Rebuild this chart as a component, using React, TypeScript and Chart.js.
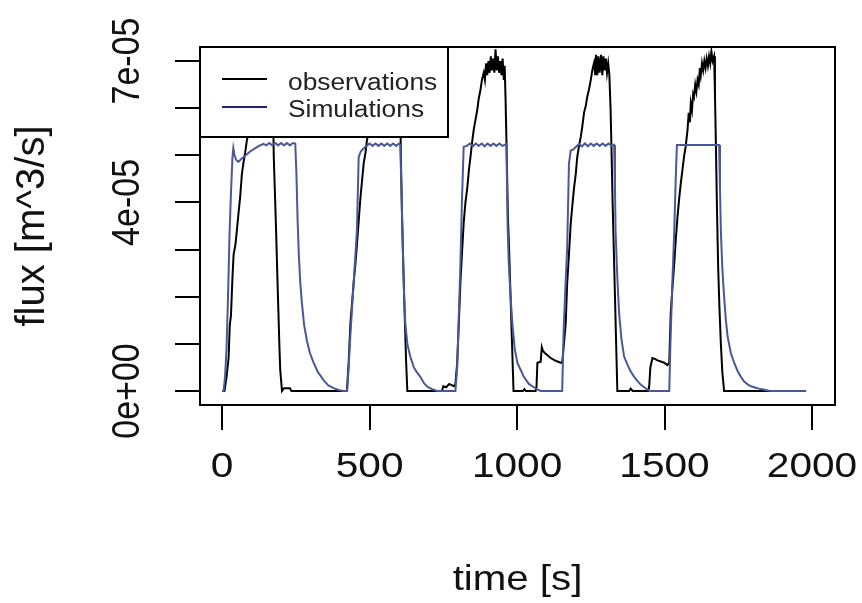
import { useEffect, useRef } from 'react';
import { Chart, registerables } from 'chart.js';

Chart.register(...registerables);

// ---------- data ----------
const xTicks = [0, 500, 1000, 1500, 2000];
const xTickLabels = ['0', '500', '1000', '1500', '2000'];
const yTicks = [0, 1e-5, 2e-5, 3e-5, 4e-5, 5e-5, 6e-5, 7e-5];
const yTickLabels = ['0e+00', '', '', '', '4e-05', '', '', '7e-05'];

const xTitle = 'time [s]';
const yTitle = 'flux [m^3/s]';
const legendLabels = ['observations', 'Simulations'];

// flux values are given in units of 1e-05 m^3/s
const FLUX_UNIT = 1e-5;

const simTime = [
  0, 5, 10, 15, 20, 25, 30, 35, 38, 42, 48, 55, 65, 80, 95, 110, 125, 140, 150, 160,
  170, 180, 190, 200, 210, 220, 230, 240, 248, 252, 256, 260, 265, 270, 278, 288, 298, 310, 325, 344,
  360, 378, 395, 412, 424, 429, 435, 441, 446, 452, 457, 463, 470, 480, 490, 500, 510, 520, 530, 540,
  550, 560, 570, 580, 590, 600, 604, 608, 612, 617, 621, 628, 638, 650, 660, 672, 685, 698, 712, 729,
  791, 797, 802, 808, 813, 819, 830, 840, 850, 860, 870, 880, 890, 900, 910, 920, 930, 940, 950, 964,
  968, 972, 978, 984, 992, 1001, 1012, 1023, 1040, 1057, 1070, 1080, 1153, 1158, 1164, 1170, 1176, 1182, 1190, 1200,
  1210, 1220, 1230, 1240, 1250, 1260, 1270, 1280, 1290, 1300, 1310, 1320, 1329, 1332, 1334, 1340, 1346, 1354, 1363, 1375,
  1385, 1397, 1410, 1420, 1431, 1442, 1453, 1516, 1520, 1526, 1533, 1538, 1542, 1600, 1650, 1685, 1688, 1691, 1696, 1702,
  1708, 1714, 1725, 1736, 1748, 1759, 1770, 1782, 1793, 1804, 1820, 1835, 1850, 1861, 1980,
];
const simFlux = [
  0, 0, 0.3, 0.9, 2.0, 3.3, 4.2, 4.95, 5.15, 5.0, 4.9, 4.86, 4.92, 5.0, 5.08, 5.14, 5.2, 5.24, 5.21, 5.26,
  5.21, 5.26, 5.21, 5.26, 5.21, 5.26, 5.21, 5.26, 5.25, 4.6, 3.6, 2.9, 2.3, 1.9, 1.4, 1.05, 0.8, 0.6, 0.4, 0.23,
  0.12, 0.06, 0.02, 0, 0, 0.5, 1.2, 1.8, 2.3, 2.9, 3.4, 4.96, 5.08, 5.15, 5.2, 5.25, 5.2, 5.25, 5.2, 5.25,
  5.2, 5.25, 5.2, 5.25, 5.2, 5.25, 5.22, 4.3, 3.2, 2.0, 1.44, 1.0, 0.73, 0.5, 0.4, 0.3, 0.16, 0.08, 0.04, 0,
  0, 0.5, 1.5, 2.7, 4.0, 5.18, 5.2, 5.25, 5.19, 5.25, 5.2, 5.25, 5.19, 5.25, 5.2, 5.25, 5.2, 5.25, 5.2, 5.24,
  3.5, 2.7, 2.0, 1.44, 0.9, 0.6, 0.45, 0.3, 0.15, 0.08, 0.03, 0, 0, 1.3, 2.2, 3.05, 4.83, 5.1, 5.12, 5.18,
  5.24, 5.19, 5.25, 5.19, 5.25, 5.2, 5.25, 5.2, 5.25, 5.2, 5.25, 5.2, 5.22, 4.3, 3.4, 2.4, 1.65, 1.1, 0.73, 0.55,
  0.42, 0.3, 0.2, 0.13, 0.08, 0.03, 0, 0, 1.0, 2.2, 3.4, 4.5, 5.22, 5.22, 5.22, 5.22, 4.3, 3.4, 2.6, 2.0,
  1.5, 1.15, 0.8, 0.6, 0.42, 0.3, 0.2, 0.14, 0.1, 0.08, 0.05, 0.03, 0.01, 0, 0,
];

const obsTime = [
  0, 8, 15, 22, 26, 30, 35, 39, 45, 50, 56, 61, 67, 72, 78, 84, 95, 110, 130, 150,
  165, 172, 175, 180, 183, 187, 191, 194, 197, 203, 210, 230, 235, 423, 429, 435, 441, 446, 452, 457,
  463, 469, 475, 480, 486, 491, 505, 520, 540, 560, 580, 600, 603, 606, 610, 615, 620, 624, 628, 700,
  745, 750, 760, 770, 780, 786, 791, 797, 803, 808, 814, 819, 825, 831, 837, 842, 848, 853, 859, 865,
  870, 876, 881, 887, 891, 895, 899, 903, 907, 911, 915, 919, 923, 927, 931, 935, 939, 943, 947, 951,
  955, 958, 961, 965, 969, 973, 978, 983, 988, 1020, 1025, 1030, 1063, 1066, 1069, 1080, 1084, 1088, 1095, 1105,
  1114, 1125, 1135, 1148, 1153, 1159, 1165, 1170, 1176, 1182, 1187, 1193, 1199, 1204, 1210, 1216, 1221, 1227, 1233, 1238,
  1244, 1250, 1255, 1261, 1265, 1268, 1272, 1276, 1280, 1285, 1289, 1293, 1297, 1301, 1305, 1309, 1313, 1317, 1320, 1324,
  1328, 1332, 1336, 1340, 1380, 1385, 1392, 1445, 1448, 1452, 1459, 1467, 1476, 1490, 1499, 1510, 1516, 1521, 1527, 1533,
  1538, 1544, 1550, 1555, 1561, 1566, 1572, 1578, 1582, 1586, 1589, 1593, 1597, 1600, 1604, 1608, 1612, 1616, 1620, 1623,
  1627, 1631, 1635, 1639, 1643, 1647, 1651, 1655, 1659, 1663, 1668, 1671, 1674, 1678, 1682, 1686, 1691, 1696, 1702, 1980,
];
const obsFlux = [
  0, 0, 0.3, 0.7, 1.4, 1.6, 2.4, 2.9, 3.1, 3.4, 3.8, 4.1, 4.6, 4.83, 5.05, 5.32, 5.6, 5.9, 6.2, 6.4,
  6.5, 6.4, 5.0, 4.0, 3.4, 2.5, 1.65, 1.0, 0.45, 0, 0.06, 0.06, 0, 0, 0.6, 1.44, 1.9, 2.3, 2.7, 3.1,
  3.6, 4.1, 4.5, 4.83, 5.05, 5.32, 5.7, 6.1, 6.5, 6.8, 6.9, 6.9, 6.8, 5.0, 3.7, 2.5, 1.4, 0.6, 0, 0,
  0, 0.1, 0.08, 0.15, 0.12, 0.1, 0.15, 0.6, 1.5, 2.3, 3.0, 3.56, 4.0, 4.3, 4.7, 4.96, 5.3, 5.54, 5.75, 5.96,
  6.2, 6.39, 6.6, 6.75, 6.6, 6.95, 6.7, 7.0, 6.75, 7.1, 6.8, 7.05, 6.75, 7.25, 6.8, 7.1, 6.75, 7.0, 6.7, 7.05,
  6.6, 6.9, 6.2, 5.0, 3.7, 3.0, 2.0, 1.0, 0, 0, 0.04, 0, 0, 0.1, 0.6, 0.62, 0.93, 0.85, 0.8, 0.75,
  0.7, 0.66, 0.63, 0.6, 0.6, 1.0, 1.44, 2.3, 2.9, 3.56, 3.9, 4.3, 4.6, 4.96, 5.2, 5.39, 5.6, 5.9, 6.05, 6.24,
  6.4, 6.6, 6.8, 6.96, 6.7, 7.13, 6.7, 7.1, 6.75, 7.13, 6.7, 7.1, 6.8, 7.05, 6.75, 6.95, 6.7, 6.0, 5.2, 4.0,
  3.0, 2.0, 1.0, 0, 0, 0.05, 0, 0, 0.1, 0.5, 0.7, 0.68, 0.65, 0.62, 0.6, 0.55, 0.6, 1.65, 2.2, 2.7,
  3.2, 3.7, 4.1, 4.4, 4.7, 4.96, 5.2, 5.54, 5.9, 5.7, 6.1, 5.95, 6.3, 6.24, 6.5, 6.35, 6.6, 6.5, 6.85, 6.7,
  6.95, 6.8, 7.0, 6.85, 7.05, 6.9, 7.1, 6.95, 7.2, 7.0, 7.1, 6.3, 5.3, 3.8, 2.6, 1.8, 1.0, 0.4, 0, 0,
];

// ---------- styles ----------
const OBS_COLOR = '#000000';
const SIM_COLOR = '#4a5898';
const SIM_LEGEND_COLOR = '#1e2370';
const FONT = '"Liberation Sans", Arial, Helvetica, sans-serif';

function drawText(
  ctx: CanvasRenderingContext2D,
  text: string,
  x: number,
  y: number,
  size: number,
  along: number,
  across: number,
  rotated: boolean,
  align: CanvasTextAlign = 'center',
  color = '#111111',
) {
  if (!text) return;
  ctx.save();
  ctx.translate(x, y);
  if (rotated) ctx.rotate(-Math.PI / 2);
  ctx.scale(along, across);
  ctx.font = `${size}px ${FONT}`;
  ctx.textAlign = align;
  ctx.textBaseline = 'alphabetic';
  ctx.fillStyle = color;
  ctx.fillText(text, 0, 0);
  ctx.restore();
}

const rTextPlugin = {
  id: 'rText',
  afterDraw(chart: any) {
    const ctx: CanvasRenderingContext2D = chart.ctx;
    const ca = chart.chartArea;
    const xs = chart.scales.x;
    const ys = chart.scales.y;
    ctx.save();

    // plot box
    ctx.strokeStyle = '#000';
    ctx.lineWidth = 2;
    ctx.strokeRect(ca.left, ca.top, ca.right - ca.left, ca.bottom - ca.top);

    // x tick labels
    xTicks.forEach((v, i) => {
      drawText(ctx, xTickLabels[i], xs.getPixelForValue(v), 477, 35, 1.16, 1, false);
    });
    // y tick labels (parallel to axis)
    yTicks.forEach((v, i) => {
      drawText(ctx, yTickLabels[i], 139, ys.getPixelForValue(v), 34, 1.0, 1.15, true);
    });
    // axis titles
    drawText(ctx, xTitle, (ca.left + ca.right) / 2, 590, 35, 1.15, 1, false);
    drawText(ctx, yTitle, 44, (ca.top + ca.bottom) / 2, 40, 1.0, 1.02, true);

    // legend
    const lx = ca.left;
    const ly = ca.top;
    const lw = 248;
    const lh = 90;
    ctx.fillStyle = '#ffffff';
    ctx.fillRect(lx, ly, lw, lh);
    ctx.strokeStyle = '#000';
    ctx.lineWidth = 2;
    ctx.strokeRect(lx, ly, lw, lh);
    const rows = [
      { label: legendLabels[0], color: OBS_COLOR, lineY: ly + 32, textY: ly + 43 },
      { label: legendLabels[1], color: SIM_LEGEND_COLOR, lineY: ly + 60, textY: ly + 70 },
    ];
    rows.forEach((r) => {
      ctx.strokeStyle = r.color;
      ctx.lineWidth = 2;
      ctx.beginPath();
      ctx.moveTo(lx + 22, r.lineY);
      ctx.lineTo(lx + 67, r.lineY);
      ctx.stroke();
      drawText(ctx, r.label, lx + 88, r.textY, 23.5, 1.12, 1, false, 'left', '#222222');
    });

    ctx.restore();
  },
};

export default function App() {
  const canvasRef = useRef<HTMLCanvasElement | null>(null);

  useEffect(() => {
    const canvas = canvasRef.current;
    if (!canvas) return;
    const simData = simTime.map((t, i) => ({ x: t, y: simFlux[i] * FLUX_UNIT }));
    const obsData = obsTime.map((t, i) => ({ x: t, y: obsFlux[i] * FLUX_UNIT }));

    const chart = new Chart(canvas, {
      type: 'scatter',
      data: {
        datasets: [
          {
            label: legendLabels[1],
            data: simData,
            showLine: true,
            borderColor: SIM_COLOR,
            backgroundColor: SIM_COLOR,
            borderWidth: 2,
            pointRadius: 0,
            order: 0,
          },
          {
            label: legendLabels[0],
            data: obsData,
            showLine: true,
            borderColor: OBS_COLOR,
            backgroundColor: OBS_COLOR,
            borderWidth: 2,
            pointRadius: 0,
            order: 1,
          },
        ],
      },
      options: {
        responsive: false,
        animation: false,
        devicePixelRatio: 1,
        layout: { padding: { left: 175, top: 47, right: 27, bottom: 173 } },
        plugins: { legend: { display: false }, tooltip: { enabled: false } },
        scales: {
          x: {
            type: 'linear',
            min: -75,
            max: 2078,
            afterBuildTicks: (s: any) => {
              s.ticks = xTicks.map((v) => ({ value: v }));
            },
            grid: {
              drawOnChartArea: false,
              drawTicks: true,
              tickLength: 25,
              color: '#000',
              tickColor: '#000',
              lineWidth: 2,
              tickWidth: 2,
            },
            border: { display: true, color: '#000', width: 2 },
            ticks: { display: false },
          },
          y: {
            type: 'linear',
            min: -0.297e-5,
            max: 7.297e-5,
            afterBuildTicks: (s: any) => {
              s.ticks = yTicks.map((v) => ({ value: v }));
            },
            grid: {
              drawOnChartArea: false,
              drawTicks: true,
              tickLength: 25,
              color: '#000',
              tickColor: '#000',
              lineWidth: 2,
              tickWidth: 2,
            },
            border: { display: true, color: '#000', width: 2 },
            ticks: { display: false },
          },
        },
      },
      plugins: [rTextPlugin],
    } as any);

    return () => chart.destroy();
  }, []);

  return (
    <div style={{ position: 'absolute', left: 0, top: 0, width: 862, height: 603, background: '#fff' }}>
      <canvas ref={canvasRef} width={862} height={603} style={{ display: 'block' }} />
    </div>
  );
}
